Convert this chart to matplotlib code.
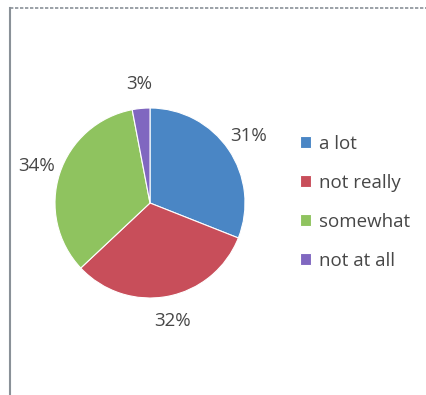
import matplotlib.pyplot as plt
from matplotlib.lines import Line2D

labels = ["a lot", "not really", "somewhat", "not at all"]
shares = [31, 32, 34, 3]
colors = ["#4a86c5", "#c84e5a", "#8fc35f", "#8067c0"]

plt.rcParams['font.family'] = ['Open Sans', 'DejaVu Sans']
text_color = "#474747"

fig = plt.figure(figsize=(4.27, 3.95), dpi=100)
W, H = 427, 395

# pie centre and radius in pixels
cx, cy, r = 150, 203, 95
half = r * 1.25
ax = fig.add_axes([(cx - half) / W, (H - cy - half) / H, 2 * half / W, 2 * half / H])

wedges, _, autotexts = ax.pie(
    shares, colors=colors, startangle=90, counterclock=False,
    autopct=lambda p: f"{p:.0f}%", pctdistance=1.26,
    wedgeprops=dict(edgecolor="white", linewidth=0.8),
)
for t in autotexts:
    t.set_color(text_color)
    t.set_fontsize(13.5)
ax.set_aspect("equal")

leg = fig.legend(
    wedges, labels, loc="upper left", bbox_to_anchor=(300 / W, 1 - 135 / H),
    frameon=False, fontsize=13.5, labelcolor=text_color,
    handlelength=0.6, handleheight=0.6, handletextpad=0.4, labelspacing=1.12,
    borderaxespad=0, borderpad=0,
)

# chart area border (left and top edges)
border = "#8a9198"
fig.add_artist(Line2D([10 / W, 10 / W], [0, 1 - 8 / H], color=border, lw=1.5,
                      transform=fig.transFigure))
fig.add_artist(Line2D([10 / W, 1], [1 - 8 / H, 1 - 8 / H], color=border, lw=1.2,
                      ls=(0, (2, 1)), transform=fig.transFigure))

fig.savefig("out.png", dpi=100)
